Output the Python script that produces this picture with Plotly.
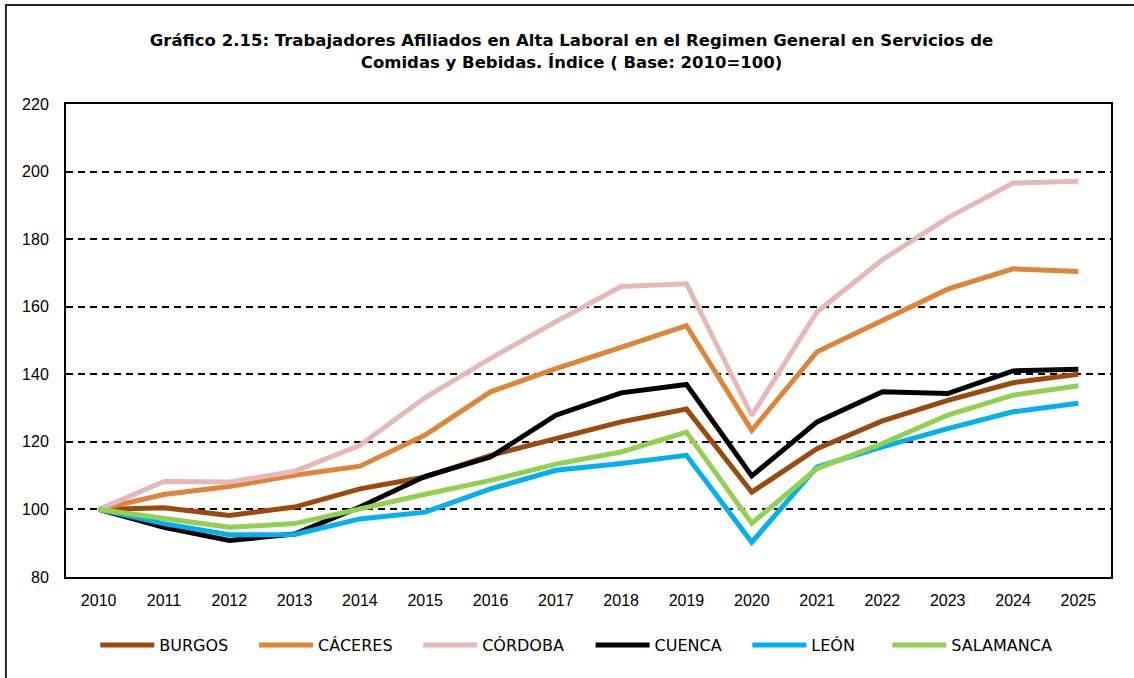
import plotly.graph_objects as go

years = [str(y) for y in range(2010, 2026)]

burgos = [100, 100.5, 98.2, 100.7, 106.1, 109.6, 116.0, 121.0, 125.9, 129.7, 105.1, 118.0, 126.2, 132.3, 137.5, 140.0]
caceres = [100, 104.4, 106.8, 110.1, 112.8, 122.0, 134.8, 141.7, 148.0, 154.4, 123.4, 146.7, 155.9, 165.2, 171.2, 170.4]
cordoba = [100, 108.3, 108.1, 111.3, 119.0, 133.1, 144.7, 155.6, 166.0, 166.8, 127.8, 158.5, 173.9, 186.3, 196.6, 197.1]
cuenca = [100, 94.7, 90.8, 92.7, 100.7, 109.8, 115.5, 127.9, 134.5, 137.0, 109.9, 125.9, 134.8, 134.3, 141.0, 141.5]
leon = [100, 95.8, 92.5, 92.6, 97.2, 99.2, 106.1, 111.6, 113.6, 116.0, 90.3, 112.6, 118.5, 123.9, 128.9, 131.4]
salamanca = [100, 97.3, 94.7, 95.8, 100.2, 104.5, 108.6, 113.4, 117.0, 122.9, 95.9, 112.1, 119.5, 127.9, 133.8, 136.6]

series = [
    ("BURGOS", burgos, "#9C4A0C"),
    ("CÁCERES", caceres, "#DE853A"),
    ("CÓRDOBA", cordoba, "#E6B9B8"),
    ("CUENCA", cuenca, "#000000"),
    ("LEÓN", leon, "#00B0F0"),
    ("SALAMANCA", salamanca, "#92D050"),
]

y_ticks = list(range(80, 221, 20))

# horizontal position (paper units) of each legend entry along the bottom row
legend_x = [0.028, 0.180, 0.337, 0.502, 0.652, 0.786]

fig = go.Figure()
legend_layouts = {}
for i, (name, vals, color) in enumerate(series):
    lg = "legend" if i == 0 else f"legend{i + 1}"
    fig.add_trace(go.Scatter(
        x=years, y=vals, name=name, mode="lines",
        line=dict(color=color, width=5), legend=lg,
    ))
    legend_layouts[lg] = dict(
        orientation="h", x=legend_x[i], xanchor="left",
        y=-0.144, yanchor="middle",
        font=dict(family="DejaVu Sans", size=16, color="black"),
        itemwidth=54, bgcolor="rgba(0,0,0,0)", borderwidth=0,
    )

fig.update_layout(
    width=1134, height=678,
    margin=dict(l=66, r=23, t=104, b=101),
    paper_bgcolor="white", plot_bgcolor="white",
    title=dict(
        text="Gráfico 2.15: Trabajadores Afiliados en Alta Laboral en el Regimen General en Servicios de<br>Comidas y Bebidas. Índice ( Base: 2010=100)",
        x=0.504, xanchor="center", y=0.932, yanchor="middle",
        font=dict(family="DejaVu Sans", size=16.5, color="black", weight="bold"),
    ),
    showlegend=True,
    **legend_layouts,
)

fig.update_xaxes(
    type="category", range=[-0.5, 15.5],
    showline=True, linecolor="black", linewidth=2, mirror=True,
    showgrid=False, ticks="",
    tickfont=dict(family="Liberation Sans", size=16, color="black"),
    ticklabelstandoff=8,
)
fig.update_yaxes(
    range=[80, 220], tickvals=y_ticks,
    showline=True, linecolor="black", linewidth=2, mirror=True,
    showgrid=True, gridcolor="black", gridwidth=2, griddash="7px,5px",
    zeroline=False, ticks="",
    tickfont=dict(family="Liberation Sans", size=16, color="black"),
    ticklabelstandoff=12,
)

# outer frame of the chart
fig.add_shape(
    type="rect", xref="paper", yref="paper",
    x0=-0.0575, x1=1.2, y0=-0.5, y1=1.2093,
    line=dict(color="#222222", width=2), fillcolor="rgba(0,0,0,0)",
)

fig.write_html("out.html")
